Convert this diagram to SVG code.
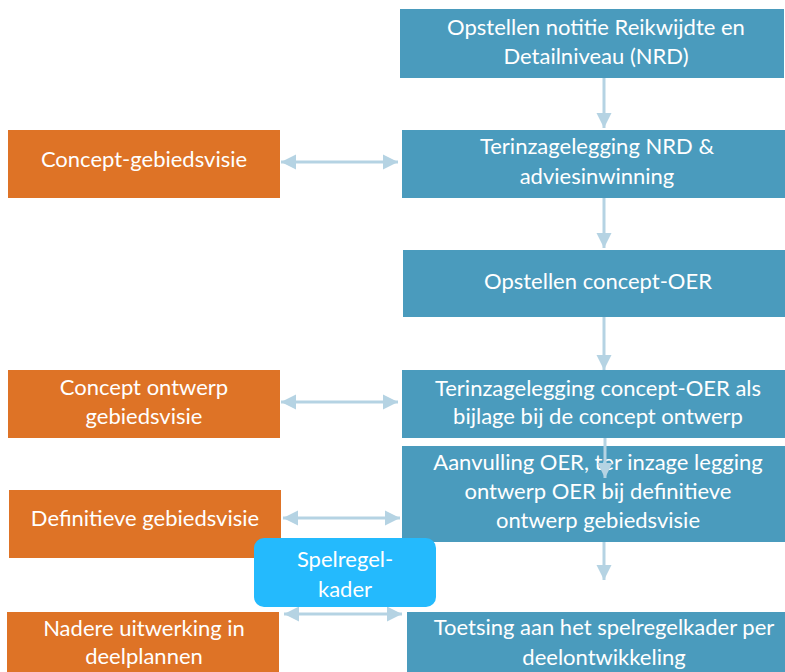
<svg xmlns="http://www.w3.org/2000/svg" width="785" height="672" viewBox="0 0 785 672">
  <defs>
    <style>
      .step { fill: #4A9BBD; }
      .side { fill: #DE7326; }
      .rule { fill: #24BAFD; }
      text { font-family: "Lato", "Open Sans", sans-serif; font-size: 22px; fill: #FFFFFF; text-anchor: middle; }
      .link { stroke: #B5D3E3; stroke-width: 3; fill: none; }
    </style>
    <marker id="head" viewBox="0 0 10 10" refX="10" refY="5" markerWidth="5" markerHeight="5.5" markerUnits="strokeWidth" orient="auto-start-reverse">
      <path d="M0,0 L10,5 L0,10 Z" fill="#B5D3E3"/>
    </marker>
  </defs>

  <rect width="785" height="672" fill="#FFFFFF"/>

  <!-- main process column -->
  <g id="nrd-opstellen">
    <rect class="step" x="400" y="9" width="384" height="69"/>
    <text x="596" y="35">Opstellen notitie Reikwijdte en</text>
    <text x="596" y="64">Detailniveau (NRD)</text>
  </g>
  <g id="nrd-terinzage">
    <rect class="step" x="402" y="130" width="383" height="68"/>
    <text x="597" y="154">Terinzagelegging NRD &amp;</text>
    <text x="597" y="184">adviesinwinning</text>
  </g>
  <g id="oer-concept">
    <rect class="step" x="403" y="250" width="382" height="67"/>
    <text x="598" y="289">Opstellen concept-OER</text>
  </g>
  <g id="oer-terinzage">
    <rect class="step" x="402" y="370" width="383" height="68"/>
    <text x="598" y="396">Terinzagelegging concept-OER als</text>
    <text x="598" y="424">bijlage bij de concept ontwerp</text>
  </g>
  <g id="oer-aanvulling">
    <rect class="step" x="402" y="446" width="383" height="96"/>
    <text x="598" y="470">Aanvulling OER, ter inzage legging</text>
    <text x="598" y="499">ontwerp OER bij definitieve</text>
    <text x="598" y="528">ontwerp gebiedsvisie</text>
  </g>
  <g id="toetsing">
    <rect class="step" x="407" y="612" width="378" height="60"/>
    <text x="604" y="635">Toetsing aan het spelregelkader per</text>
    <text x="604" y="665">deelontwikkeling</text>
  </g>

  <!-- area vision column -->
  <g id="concept-gebiedsvisie">
    <rect class="side" x="8" y="130" width="272" height="68"/>
    <text x="144" y="167">Concept-gebiedsvisie</text>
  </g>
  <g id="concept-ontwerp">
    <rect class="side" x="8" y="370" width="272" height="68"/>
    <text x="144" y="395">Concept ontwerp</text>
    <text x="144" y="424">gebiedsvisie</text>
  </g>
  <g id="definitieve-gebiedsvisie">
    <rect class="side" x="9" y="490" width="272" height="68"/>
    <text x="145" y="526">Definitieve gebiedsvisie</text>
  </g>
  <g id="nadere-uitwerking">
    <rect class="side" x="7" y="612" width="272" height="60"/>
    <text x="144" y="636">Nadere uitwerking in</text>
    <text x="144" y="664">deelplannen</text>
  </g>

  <!-- connectors -->
  <g id="connectors">
    <line class="link" x1="604" y1="78" x2="604" y2="128" marker-end="url(#head)"/>
    <line class="link" x1="604" y1="198" x2="604" y2="248" marker-end="url(#head)"/>
    <line class="link" x1="604" y1="317" x2="604" y2="370" marker-end="url(#head)"/>
    <line class="link" x1="605" y1="438" x2="605" y2="478" marker-end="url(#head)"/>
    <line class="link" x1="604" y1="542" x2="604" y2="580" marker-end="url(#head)"/>

    <line class="link" x1="281" y1="162" x2="398" y2="162" marker-start="url(#head)" marker-end="url(#head)"/>
    <line class="link" x1="281" y1="402" x2="398" y2="402" marker-start="url(#head)" marker-end="url(#head)"/>
    <line class="link" x1="283" y1="518" x2="400" y2="518" marker-start="url(#head)" marker-end="url(#head)"/>
    <line class="link" x1="284" y1="614" x2="402" y2="614" marker-start="url(#head)" marker-end="url(#head)"/>
  </g>

  <!-- framework node over the connectors -->
  <g id="spelregelkader">
    <rect class="rule" x="254" y="538" width="182" height="69" rx="10"/>
    <text x="345" y="567">Spelregel-</text>
    <text x="345" y="597">kader</text>
  </g>
</svg>
